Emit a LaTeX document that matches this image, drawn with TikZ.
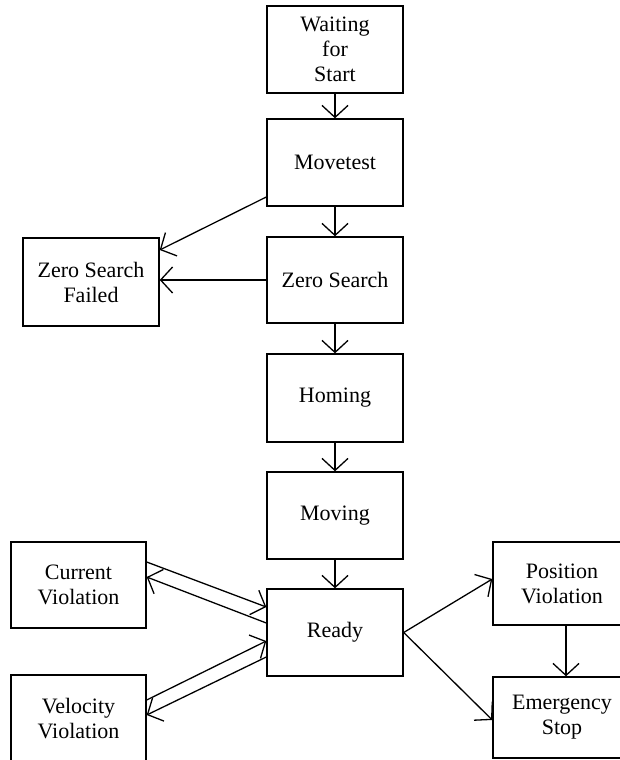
\documentclass[tikz,border=0pt]{standalone}
\usepackage{fontspec}
\setmainfont{Liberation Serif}
\usetikzlibrary{arrows.meta}
\begin{document}
\begin{tikzpicture}[x=1pt,y=-1pt,
  box/.style={draw, line width=1.4pt, rectangle, minimum width=136pt, align=center,
    inner sep=0pt, font=\fontsize{22}{25}\selectfont},
  arr/.style={line width=1.3pt, -{Straight Barb[length=12pt,width=26pt,line width=1.3pt]}}]
\fill[white] (0,0) rectangle (620,760);
\useasboundingbox (0,0) rectangle (620,760);
\clip (0,0) rectangle (620,760);
\node[box, minimum height=87pt] (wait) at (335,49.5) {Waiting\\for\\Start};
\node[box, minimum height=87pt] (move) at (335,162.5) {Movetest};
\node[box, minimum height=86pt] (zs) at (335,280) {Zero Search};
\node[box, minimum height=88pt] (zsf) at (91,282) {Zero Search\\Failed};
\node[box, minimum height=88pt] (hom) at (335,398) {Homing};
\node[box, minimum height=87pt] (mov) at (335,515.5) {Moving};
\node[box, minimum height=87pt] (ready) at (335,632.5) {Ready};
\node[box, minimum width=135pt, minimum height=86pt] (cur) at (78.5,585) {Current\\Violation};
\node[box, minimum width=135pt, minimum height=88pt] (vel) at (78.5,719) {Velocity\\Violation};
\node[box, minimum width=138pt, minimum height=83pt] (pos) at (562,583.5) {Position\\Violation};
\node[box, minimum width=138pt, minimum height=81pt] (emg) at (562,717.5) {Emergency\\Stop};
\draw[arr] (wait) -- (move);
\draw[arr] (move) -- (zs);
\draw[arr] (zs) -- (hom);
\draw[arr] (hom) -- (mov);
\draw[arr] (mov) -- (ready);
\draw[arr] (move.west |- 0,197) -- (zsf.east |- 0,250);
\draw[arr] (zs.west) -- (zsf.east |- zs.west);
\draw[arr] (cur.east |- 0,562) -- (ready.west |- 0,607);
\draw[arr] (ready.west |- 0,623) -- (cur.east |- 0,577);
\draw[arr] (vel.east |- 0,700) -- (ready.west |- 0,641);
\draw[arr] (ready.west |- 0,657) -- (vel.east |- 0,715);
\draw[arr] (ready.east) -- (pos.west |- 0,579);
\draw[arr] (ready.east) -- (emg.west |- 0,720);
\draw[arr] (pos.south -| 566,0) -- (emg.north -| 566,0);
\end{tikzpicture}
\end{document}
